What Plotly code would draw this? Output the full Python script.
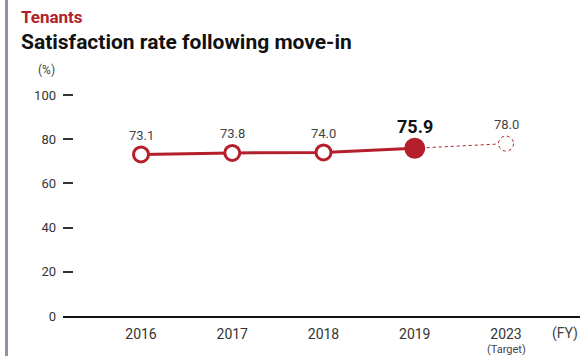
import plotly.graph_objects as go

# Satisfaction survey results (%), fiscal years
years = ["2016", "2017", "2018", "2019", "2023"]
rates = [73.1, 73.8, 74.0, 75.9, 78.0]
y_ticks = [0, 20, 40, 60, 80, 100]

RED = "#b31f2b"
FONT = "Roboto, Arial, sans-serif"

xs = list(range(len(years)))
n_actual = 4  # last entry is the target

W, H = 583, 356
ML, MR, MT, MB = 63, 3, 80, 40
PW, PH = W - ML - MR, H - MT - MB

fig = go.Figure()

# dotted projection from latest actual to target
fig.add_trace(go.Scatter(
    x=xs[n_actual - 1:], y=rates[n_actual - 1:], mode="lines",
    line=dict(color=RED, width=1, dash="dot"), hoverinfo="skip",
))

# actual results
fig.add_trace(go.Scatter(
    x=xs[:n_actual], y=rates[:n_actual], mode="lines+markers",
    line=dict(color=RED, width=3),
    marker=dict(size=[15, 15, 15, 18], opacity=1,
                color=["white"] * (n_actual - 1) + [RED],
                line=dict(color=RED, width=3)),
    hoverinfo="skip",
))

# target marker: dotted circle
fig.add_shape(type="circle", xref="x", yref="y", xsizemode="pixel", ysizemode="pixel",
              xanchor=xs[-1], yanchor=rates[-1], x0=-7.5, x1=7.5, y0=-7.5, y1=7.5,
              line=dict(color=RED, width=1, dash="dot"), fillcolor="white", layer="above")

# value labels
for i, v in enumerate(rates):
    latest = i == n_actual - 1
    fig.add_annotation(
        x=xs[i], y=v, text=f"<b>{v:.1f}</b>" if latest else f"{v:.1f}",
        showarrow=False, yshift=22 if latest else 19,
        font=dict(family=FONT, size=18 if latest else 13,
                  color="#111" if latest else "#444"),
    )

# "(Target)" note under the last year
fig.add_annotation(xref="x", yref="paper", x=xs[-1], y=-(349 - (H - MB)) / PH,
                   xanchor="center", yanchor="middle", showarrow=False, borderpad=0,
                   text="(Target)", font=dict(family=FONT, size=11, color="#444"))

# left accent bar
fig.add_shape(type="rect", xref="paper", yref="paper",
              x0=(5 - ML) / PW, x1=(8 - ML) / PW,
              y0=-MB / PH, y1=1 + MT / PH,
              fillcolor="#8a94ab", line=dict(width=0), layer="above")

fig.add_annotation(xref="paper", yref="paper", x=(19 - ML) / PW, y=1 + (MT - 17) / PH,
                   xanchor="left", yanchor="middle", showarrow=False,
                   text="<b>Tenants</b>", font=dict(family=FONT, size=17, color=RED))
fig.add_annotation(xref="paper", yref="paper", x=(19 - ML) / PW, y=1 + (MT - 42) / PH,
                   xanchor="left", yanchor="middle", showarrow=False,
                   text="<b>Satisfaction rate following move-in</b>",
                   font=dict(family=FONT, size=21, color="#111"))
fig.add_annotation(xref="paper", yref="paper", x=(46 - ML) / PW, y=1 + (MT - 70) / PH,
                   xanchor="center", yanchor="middle", showarrow=False,
                   text="(%)", font=dict(family=FONT, size=12, color="#444"))
fig.add_annotation(xref="paper", yref="paper", x=(565 - ML) / PW, y=-(333 - (H - MB)) / PH,
                   xanchor="center", yanchor="middle", showarrow=False,
                   text="(FY)", font=dict(family=FONT, size=14, color="#444"))

x0 = -(141 - ML) / 91.25
x1 = 4 + (580 - 506) / 91.25
fig.update_layout(
    width=W, height=H, margin=dict(l=ML, r=MR, t=MT, b=MB),
    paper_bgcolor="white", plot_bgcolor="white", showlegend=False,
    xaxis=dict(range=[x0, x1], tickvals=xs, ticktext=years, showgrid=False,
               zeroline=False, showline=True, linecolor="#111", linewidth=2,
               ticks="", tickfont=dict(family=FONT, size=14, color="#333"),
               ticklabelstandoff=4, automargin=False),
    yaxis=dict(range=[0, PH / 2.21],
               tickvals=y_ticks, showgrid=False, zeroline=False, showline=False,
               ticks="inside", ticklen=10, tickwidth=1.5, tickcolor="#333",
               tickfont=dict(family=FONT, size=13, color="#333"),
               ticklabelstandoff=6, automargin=False),
)

fig.write_html("out.html")
